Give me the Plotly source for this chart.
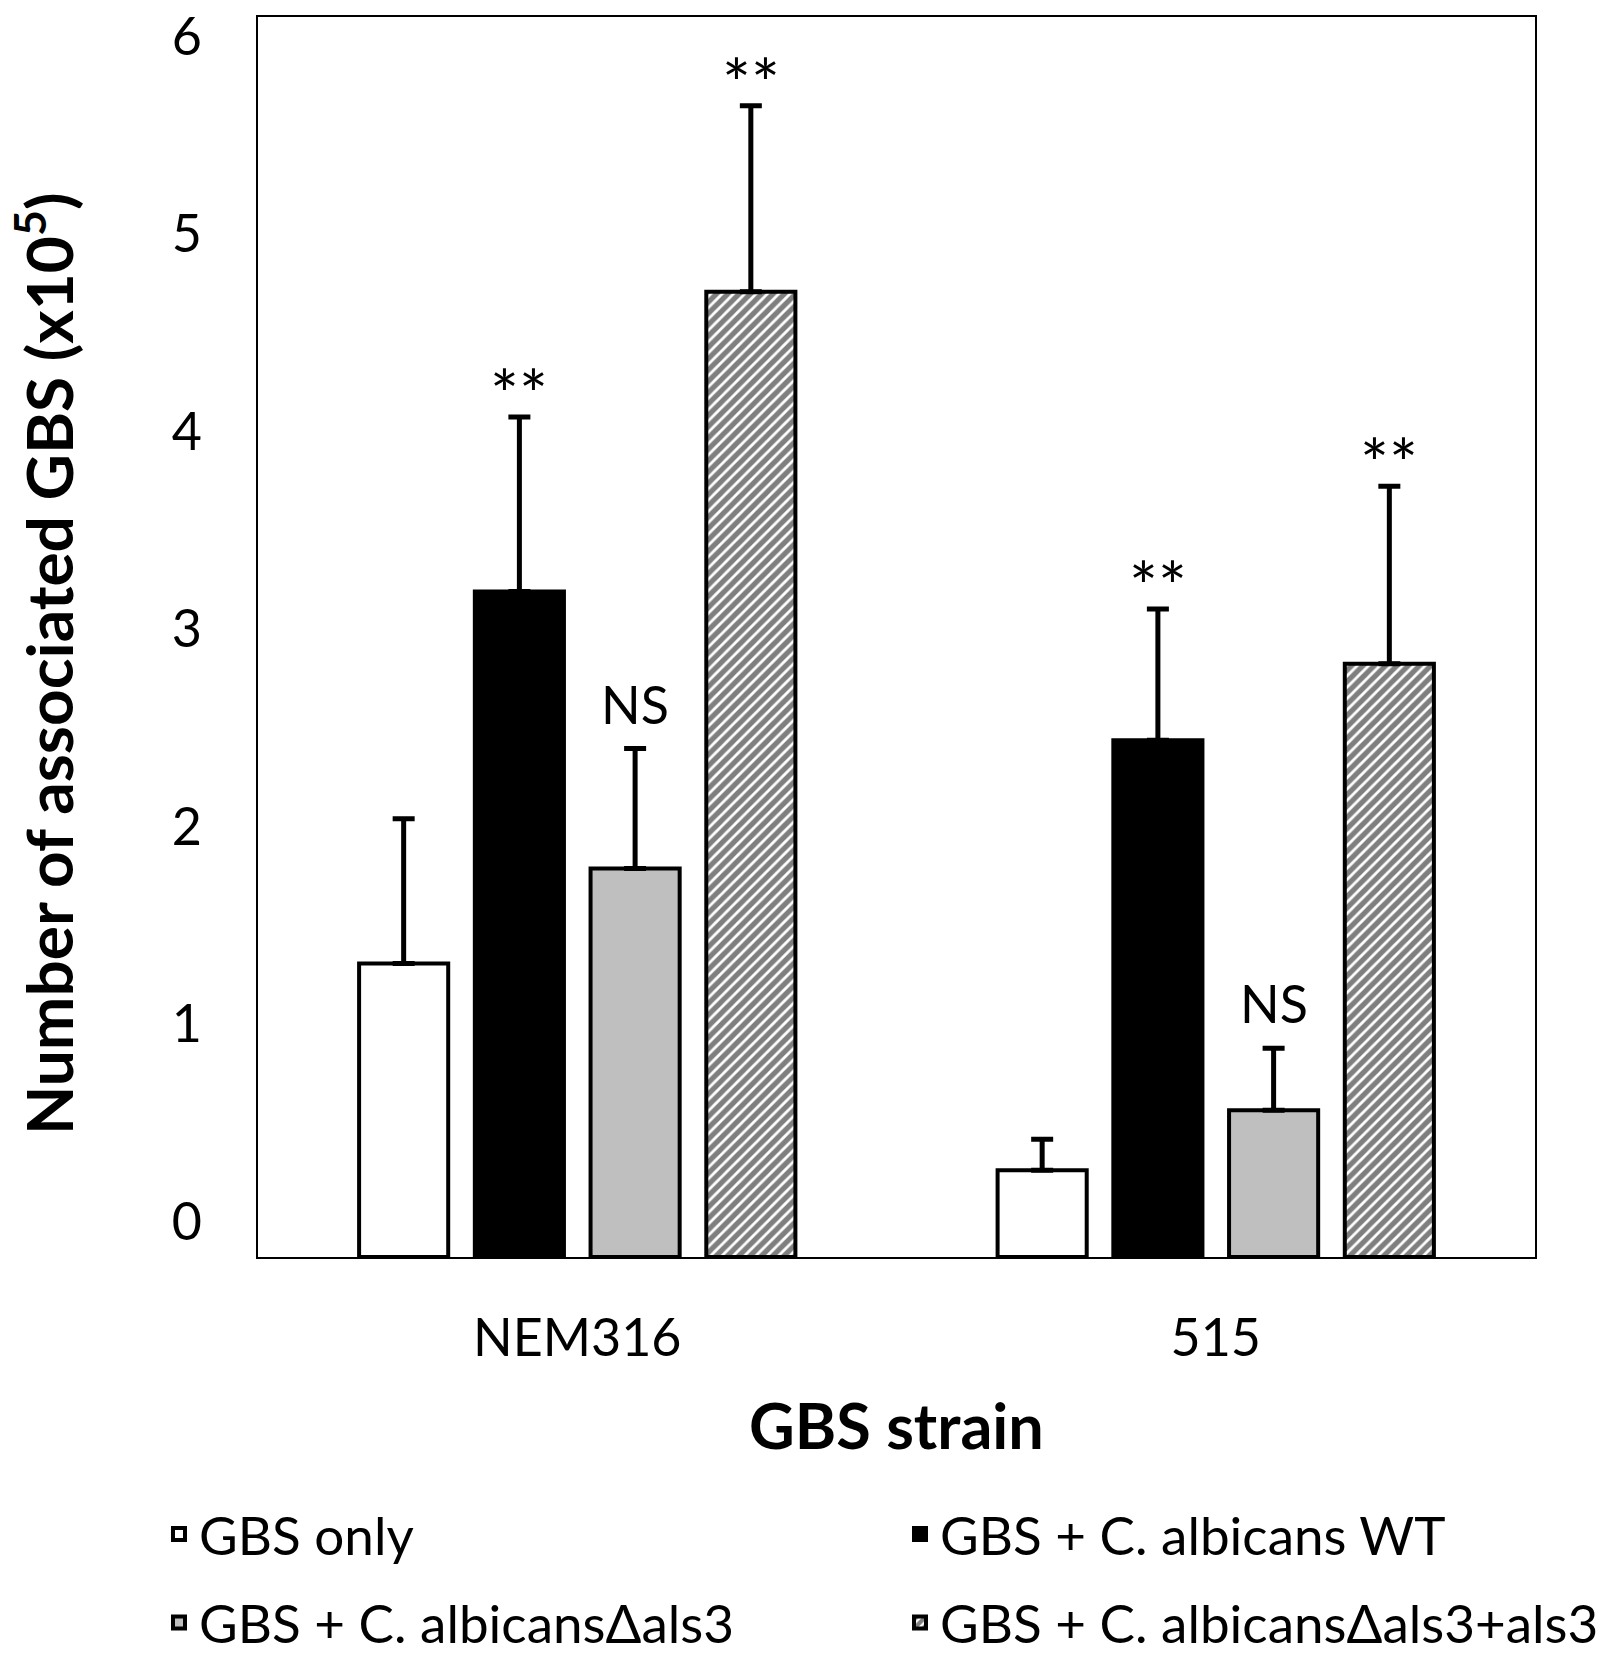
import plotly.graph_objects as go

# GBS strains on the x axis
strains = ["NEM316", "515"]

# Series names (legend entries)
series_names = [
    "GBS only",
    "GBS + C. albicans WT",
    "GBS + C. albicansΔals3",
    "GBS + C. albicansΔals3+als3",
]

# Mean number of associated GBS (x10^5) and upper error (SD)
gbs_only = [1.42, 0.42]
gbs_only_err = [0.70, 0.15]
ca_wt = [3.22, 2.50]
ca_wt_err = [0.845, 0.635]
ca_dals3 = [1.88, 0.71]
ca_dals3_err = [0.58, 0.30]
ca_dals3_als3 = [4.67, 2.87]
ca_dals3_als3_err = [0.90, 0.86]

# Significance labels versus GBS only
sig_gbs_only = ["", ""]
sig_wt = ["**", "**"]
sig_dals3 = ["NS", "NS"]
sig_dals3_als3 = ["**", "**"]

y_tick_values = [0, 1, 2, 3, 4, 5, 6]
y_tick_labels = ["0", "1", "2", "3", "4", "5", "6"]

FONT = "Lato, 'Open Sans', sans-serif"
FIG_W, FIG_H = 1619, 1659
MARGIN = dict(l=258, r=84, t=17, b=402)
BAR_GAP = 0.275
BAR_GROUP_GAP = 0.23

means = [gbs_only, ca_wt, ca_dals3, ca_dals3_als3]
errors = [gbs_only_err, ca_wt_err, ca_dals3_err, ca_dals3_als3_err]
labels = [sig_gbs_only, sig_wt, sig_dals3, sig_dals3_als3]
fills = ["white", "black", "#bfbfbf", "white"]

# legend laid out as a 2 x 2 grid, one legend box per entry
legend_ids = ["legend", "legend2", "legend3", "legend4"]
legend_cols = [0.0982, 0.5559]   # left edge of each column (fraction of width)
legend_rows = [0.0753, 0.022]    # centre of each row (fraction of height)

fig = go.Figure()

for i, name in enumerate(series_names):
    marker = dict(color=fills[i], line=dict(color="black", width=4))
    if i == 3:
        marker["pattern"] = dict(shape="/", fgcolor="black", bgcolor="white",
                                 size=8, solidity=0.65)
    fig.add_trace(go.Bar(
        name=name,
        x=strains,
        y=means[i],
        marker=marker,
        error_y=dict(type="data", symmetric=False, array=errors[i],
                     arrayminus=[0] * len(strains),
                     color="black", thickness=5, width=11),
        legend=legend_ids[i],
    ))

# carrier for the tick-label axis
fig.add_trace(go.Scatter(x=[], y=[], yaxis="y2", showlegend=False,
                         hoverinfo="skip"))

# significance labels above each error bar; horizontal offset of each bar
# within its group follows from the grouped-bar geometry
plot_w = FIG_W - MARGIN["l"] - MARGIN["r"]
slot_px = (1 - BAR_GAP) * plot_w / len(strains) / len(series_names)
annotations = []
for i in range(len(series_names)):
    for j in range(len(strains)):
        txt = labels[i][j]
        if not txt:
            continue
        star = txt == "**"
        annotations.append(dict(
            x=j, y=means[i][j] + errors[i][j],
            xref="x", yref="y",
            xshift=(i - (len(series_names) - 1) / 2) * slot_px,
            yshift=-18 if star else 12,
            text=txt, showarrow=False,
            xanchor="center", yanchor="bottom",
            font=dict(family=FONT, size=68 if star else 52, color="black"),
        ))

# y axis title
annotations.append(dict(
    text="<b>Number of associated GBS (x10<sup>5</sup>)</b>",
    textangle=-90,
    xref="paper", yref="paper",
    x=-0.1676, y=0.479,
    xanchor="center", yanchor="middle",
    showarrow=False,
    font=dict(family=FONT, size=64, color="black"),
))

legend_layout = {}
for k, lid in enumerate(legend_ids):
    legend_layout[lid] = dict(
        orientation="h",
        xref="container", x=legend_cols[k % 2], xanchor="left",
        yref="container", y=legend_rows[k // 2], yanchor="middle",
        font=dict(family=FONT, size=53, color="black"),
        bgcolor="rgba(0,0,0,0)",
    )

fig.update_layout(
    width=FIG_W,
    height=FIG_H,
    margin=MARGIN,
    paper_bgcolor="white",
    plot_bgcolor="white",
    font=dict(family=FONT, color="black", size=52),
    barmode="group",
    bargap=BAR_GAP,
    bargroupgap=BAR_GROUP_GAP,
    showlegend=True,
    **legend_layout,
    xaxis=dict(
        type="category",
        range=[-0.5, len(strains) - 0.5],
        showline=True, mirror=True, linecolor="black", linewidth=2,
        showgrid=False, ticks="",
        tickfont=dict(family=FONT, size=52, color="black"),
        ticklabelstandoff=35,
        automargin=False,
        title=dict(text="<b>GBS strain</b>", standoff=38,
                   font=dict(family=FONT, size=63, color="black")),
    ),
    # value axis of the bars (frame = 0 .. 6)
    yaxis=dict(
        range=[0, 6],
        showline=True, mirror=True, linecolor="black", linewidth=2,
        showgrid=False, zeroline=False, ticks="",
        showticklabels=False,
        automargin=False,
    ),
    # tick labels, set in slightly from the top and bottom of the frame
    yaxis2=dict(
        overlaying="y", side="left",
        range=[-0.1798, 6.0987],
        showline=False, showgrid=False, zeroline=False, ticks="",
        tickvals=y_tick_values, ticktext=y_tick_labels,
        tickfont=dict(family=FONT, size=52, color="black"),
        ticklabelstandoff=55,
        automargin=False,
    ),
    annotations=annotations,
)

fig.write_html("out.html")
